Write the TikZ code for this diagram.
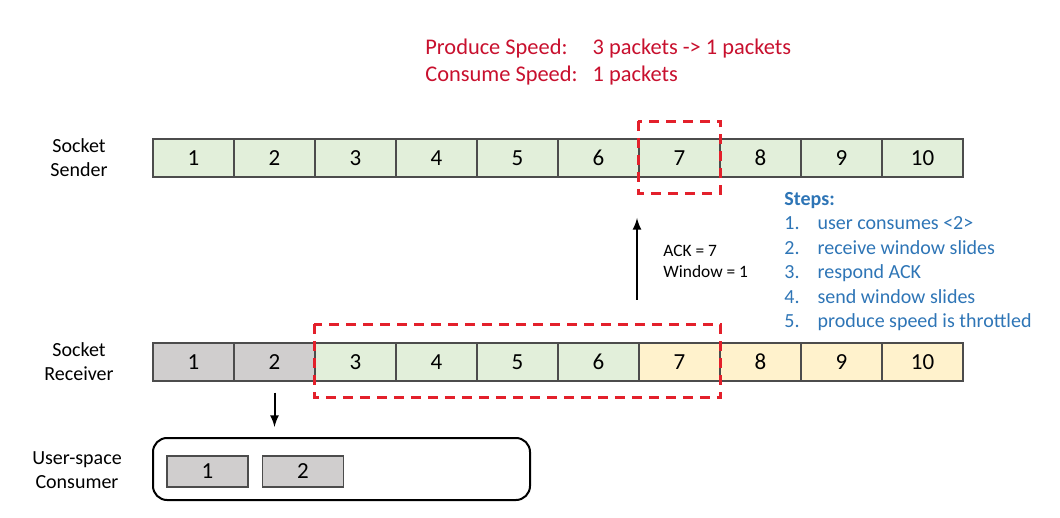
\documentclass[tikz,border=0pt]{standalone}
\usepackage{fontspec}
\setmainfont{Carlito}
\usetikzlibrary{arrows,positioning,calc}
\definecolor{cellgreen}{HTML}{E2EFDA}
\definecolor{cellgray}{HTML}{D0CECE}
\definecolor{cellyellow}{HTML}{FFF2CC}
\definecolor{winred}{HTML}{E3202B}
\definecolor{speedred}{HTML}{C8102E}
\definecolor{stepblue}{HTML}{2E75B6}
\tikzset{
  cell/.style={draw=black!70,line width=0.7pt,minimum width=40.5pt,minimum height=19pt,inner sep=0pt,font=\fontsize{11.5}{13}\selectfont},
  window/.style={draw=winred,line width=1.4pt,dash pattern=on 5pt off 3.5pt},
  rowlabel/.style={align=center,font=\fontsize{10}{12}\selectfont},
}

\begin{document}
\begin{tikzpicture}[x=0.5pt,y=-0.5pt]
\useasboundingbox (0,0) rectangle (1060,518);
% speeds
\node[anchor=north west,inner sep=0pt,text=speedred,font=\fontsize{11.2}{13.6}\selectfont] (speed) at (425,35) {\begin{tabular}{@{}l@{\hspace{7.5pt}}l@{}}Produce Speed: & 3 packets -> 1 packets\\Consume Speed: & 1 packets\end{tabular}};
% sender
\node[rowlabel] (sendlabel) at (79,158) {Socket\\Sender};
\foreach \i in {1,...,10}
  \node[cell,fill=cellgreen] (s\i) at ({112.5+81*\i},158) {\i};
\draw[window] ($(s7.north west)+(0,-17)$) rectangle ($(s7.south east)+(0,16)$);
% receiver
\node[rowlabel] (recvlabel) at (79,362) {Socket\\Receiver};
\foreach \i/\c in {1/cellgray,2/cellgray,3/cellgreen,4/cellgreen,5/cellgreen,6/cellgreen,7/cellyellow,8/cellyellow,9/cellyellow,10/cellyellow}
  \node[cell,fill=\c] (r\i) at ({112.5+81*\i},362) {\i};
\draw[window] ($(r3.north west)+(0,-18)$) rectangle ($(r7.south east)+(0,16)$);
% ack
\coordinate (ackfrom) at (637,300);
\coordinate (ackto) at (637,218);
\draw[line width=1pt,-latex] (ackfrom) -- (ackto);
\node[anchor=west,align=left,inner sep=0pt,font=\fontsize{8.7}{10.5}\selectfont] (ack) at (663,261) {ACK = 7\\Window = 1};
% consumer
\node[rowlabel] (userlabel) at (77,470) {User-space\\Consumer};
\node[draw,line width=1pt,rounded corners=7pt,minimum width=188.5pt,minimum height=31pt] (consumer) at (341.5,469) {};
\node[cell,fill=cellgray,minimum height=15.5pt] (c1) at (207.5,471.5) {1};
\node[cell,fill=cellgray,minimum height=15.5pt,right=6.5pt of c1] (c2) {2};
\draw[line width=1pt,-latex] ($(r2.south)+(0,11)$) -- ($(consumer.north -| r2)+(0,-10)$);
% steps
\node[anchor=north west,inner sep=0pt,text=stepblue,font=\fontsize{10}{12.2}\selectfont] (steps) at (784,188) {\begin{tabular}{@{}l@{\hspace{9pt}}l@{}}\multicolumn{2}{@{}l}{\textbf{Steps:}}\\1. & user consumes <2>\\2. & receive window slides\\3. & respond ACK\\4. & send window slides\\5. & produce speed is throttled\end{tabular}};
\end{tikzpicture}
\end{document}
